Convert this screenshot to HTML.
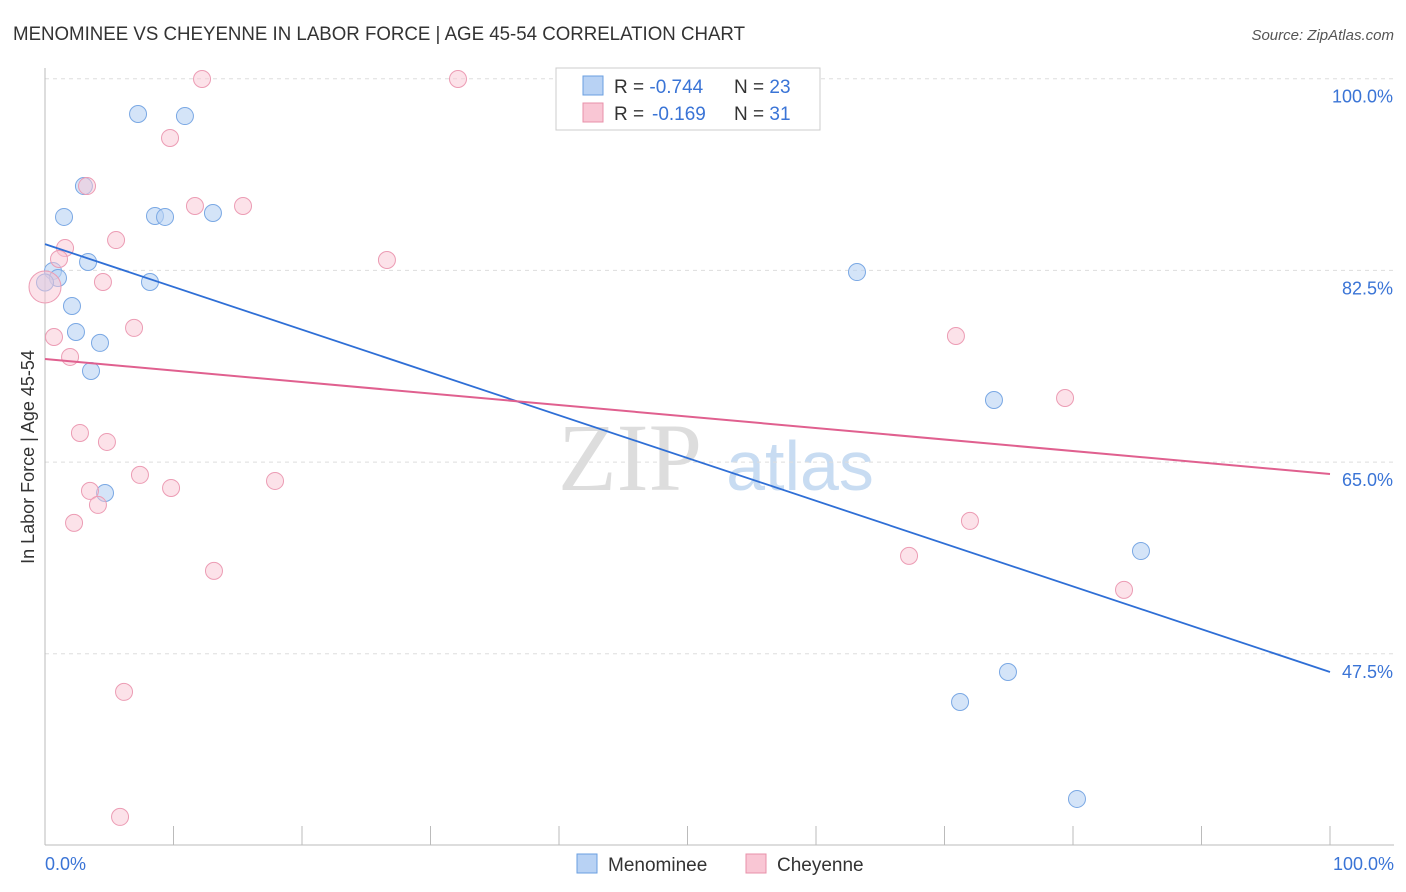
<!DOCTYPE html>
<html><head><meta charset="utf-8"><style>
body{margin:0;background:#fff;font-family:"Liberation Sans",sans-serif;}
svg{display:block}
</style></head><body>
<svg id="chart" width="1406" height="892">
<text x="13" y="40" font-size="19" fill="#333" textLength="732" lengthAdjust="spacingAndGlyphs">MENOMINEE VS CHEYENNE IN LABOR FORCE | AGE 45-54 CORRELATION CHART</text>
<text x="1394" y="40" font-size="15" fill="#555" text-anchor="end" font-style="italic">Source: ZipAtlas.com</text>
<text x="630" y="490" font-size="96" fill="#ddd" font-family="Liberation Serif,serif" text-anchor="middle">ZIP</text>
<text x="800" y="490" font-size="70" fill="#c8dcf2" text-anchor="middle">atlas</text>
<g id="grid"></g>
<g id="axes"></g>
<g id="marks"></g>
<text transform="translate(34,457) rotate(-90)" font-size="18" fill="#333" text-anchor="middle">In Labor Force | Age 45-54</text>
<text x="45" y="870" font-size="18" fill="#3a74d6">0.0%</text>
<text x="1394" y="870" font-size="18" fill="#3a74d6" text-anchor="end">100.0%</text>
<g>
<rect x="556" y="68" width="264" height="62" fill="#fff" stroke="#ccc"/>
<rect x="583" y="76" width="20" height="19" fill="#b8d2f4" stroke="#6a9fe0"/>
<rect x="583" y="103" width="20" height="19" fill="#f9c6d4" stroke="#e890aa"/>
<text x="614" y="93" font-size="19" fill="#333">R = <tspan fill="#3a74d6">-0.744</tspan><tspan x="734">N = </tspan><tspan fill="#3a74d6">23</tspan></text>
<text x="614" y="120" font-size="19" fill="#333">R = <tspan fill="#3a74d6" x="652">-0.169</tspan><tspan x="734">N = </tspan><tspan fill="#3a74d6">31</tspan></text>
</g>
<g>
<rect x="577" y="854" width="20" height="19" fill="#b8d2f4" stroke="#6a9fe0"/>
<text x="608" y="871" font-size="19" fill="#333">Menominee</text>
<rect x="746" y="854" width="20" height="19" fill="#f9c6d4" stroke="#e890aa"/>
<text x="777" y="871" font-size="19" fill="#333">Cheyenne</text>
</g>
</svg>
<script>
const yTicks=[100,82.5,65,47.5];
const yTickLabels=["100.0%","82.5%","65.0%","47.5%"];
const xTicks=[0,10,20,30,40,50,60,70,80,90,100];
const menX=[7.24,10.89,3.03,1.48,8.56,9.34,13.07,3.35,0.62,1.01,8.17,0,2.10,2.41,4.28,3.58,4.67,63.19,73.85,85.29,74.94,71.21,80.31];
const menY=[96.78,96.59,90.20,87.38,87.47,87.38,87.74,83.27,82.45,81.81,81.44,81.4,79.25,76.88,75.88,73.32,62.18,82.35,70.67,56.88,45.84,43.10,34.25];
const cheX=[12.22,32.14,9.73,3.27,11.67,15.41,1.56,5.53,1.09,26.61,4.51,0,6.93,0.70,1.95,2.72,4.82,7.39,17.90,3.50,9.81,4.12,2.26,13.15,6.15,5.84,70.89,79.38,71.98,67.24,83.97];
const cheY=[99.97,99.97,94.59,90.20,88.38,88.38,84.54,85.27,83.54,83.45,81.44,80.99,77.25,76.42,74.60,67.66,66.84,63.83,63.28,62.37,62.64,61.09,59.45,55.07,44.02,32.61,76.51,70.85,59.63,56.44,53.34];
const menLine=[84.9,45.84];
const cheLine=[74.41,63.91];
const NS="http://www.w3.org/2000/svg";
const X=v=>45+v*12.85, Y=v=>78.7+(100-v)*191.7/17.5;
function mk(t,a,p){const e=document.createElementNS(NS,t);for(const k in a)e.setAttribute(k,a[k]);document.getElementById(p).appendChild(e);return e;}
yTicks.forEach((t,i)=>{
 const l=mk('line',{x1:45,x2:1394,y1:Y(t),y2:Y(t),stroke:'#ddd','stroke-dasharray':'4,4'},'grid');
 
 
 const tx=mk('text',{x:1393,y:Y(t)+24,'font-size':18,fill:'#3a74d6','text-anchor':'end'},'grid');
 tx.textContent=yTickLabels[i];
 
 
});
const ax=mk('line',{x1:45,x2:1394,y1:845,y2:845,stroke:'#bbb'},'axes');


const ay=mk('line',{x1:45,x2:45,y1:68,y2:845,stroke:'#bbb'},'axes');


xTicks.forEach(t=>{
 const l=mk('line',{x1:X(t),x2:X(t),y1:826,y2:845,stroke:'#bbb'},'axes');
 
 
});
menX.forEach((v,i)=>{
 const c=mk('circle',{cx:X(v),cy:Y(menY[i]),r:8.5,fill:'#b8d2f4','fill-opacity':0.6,stroke:'#7aa8e4','stroke-width':1},'marks');
 
 
});
cheX.forEach((v,i)=>{
 const c=mk('circle',{cx:X(v),cy:Y(cheY[i]),r:i==11?16:8.5,fill:'#f9c6d4','fill-opacity':0.5,stroke:'#ec9cb4','stroke-width':1},'marks');
 
 
});
const l1=mk('line',{x1:X(0),y1:Y(menLine[0]),x2:X(100),y2:Y(menLine[1]),stroke:'#2f6fd6','stroke-width':1.8},'marks');


const l2=mk('line',{x1:X(0),y1:Y(cheLine[0]),x2:X(100),y2:Y(cheLine[1]),stroke:'#e0608f','stroke-width':2},'marks');


</script>
</body></html>
